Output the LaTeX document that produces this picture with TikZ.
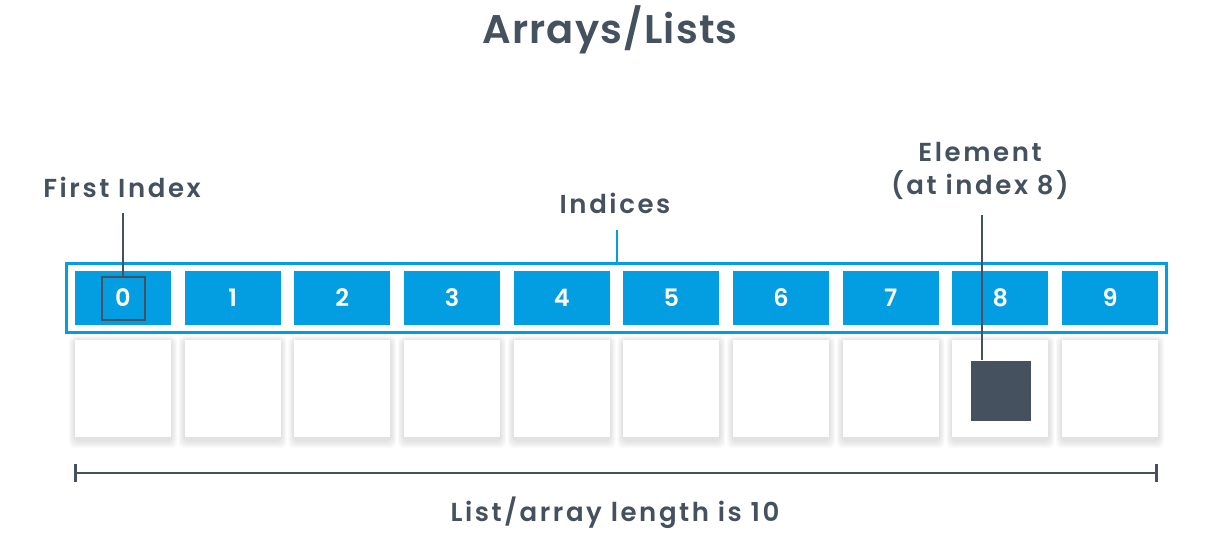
\documentclass[tikz,border=0pt]{standalone}
\usepackage{fontspec}
\setmainfont{Poppins}[UprightFont=* SemiBold, BoldFont=* Bold, LetterSpace=10]
\newfontfamily\titlefont{Poppins SemiBold}[LetterSpace=3]
\usetikzlibrary{fit,arrows.meta}
\definecolor{idxblue}{RGB}{3,157,226}
\definecolor{slate}{RGB}{70,81,96}
\tikzset{
  idxcell/.style={fill=idxblue, minimum width=48pt, minimum height=27pt, inner sep=0pt,
    text=white, font=\fontsize{12}{14}\selectfont},
  valcell/.style={fill=white, minimum width=48pt, minimum height=48.5pt, inner sep=0pt},
  softshade/.style={fill=black, opacity=0.025, rounded corners=3pt},
  lbl/.style={text=slate, font=\fontsize{13}{16.5}\selectfont, align=center, inner sep=0pt}
}
\begin{document}
\begin{tikzpicture}[x=0.5pt,y=-0.5pt]
		\useasboundingbox (0,0) rectangle (1210,532);
		
		% 1. Title
		\node[lbl, font=\fontsize{20}{24}\titlefont] (title) at (610,30) {Arrays/Lists};
		
		% 2. Index cells and value cells (with a soft shadow)
		\foreach \i in {0,...,9}{
			\node[idxcell] (c\i) at ({123+109.67*\i},298) {\i};
			\foreach \s in {1,...,5}
				\fill[softshade] ({123+109.67*\i-48-1.2*\s},{341-1.0*\s}) rectangle ({123+109.67*\i+48+1.2*\s},{440+1.6*\s});
			\node[valcell] (v\i) at ({123+109.67*\i},388.5) {};
		}
		
		% 3. Frame round the indices
		\node[draw=idxblue, line width=1.5pt, inner xsep=4pt, inner ysep=3.5pt, fit=(c0)(c9)] (frame) {};
		\node[lbl] (indices) at (615,203) {Indices};
		\draw[idxblue, line width=1pt] (frame.north) -- (frame.north |- 0,230);
		
		% 4. First index
		\node[draw=slate, line width=1pt, minimum width=21.5pt, minimum height=21.5pt, inner sep=0pt] (first) at (c0) {};
		\node[lbl] (firsttxt) at (122,187) {First Index};
		\draw[slate, line width=1pt] (first.north) -- (first.north |- 0,213);
		
		% 5. Element at index 8
		\node[fill=slate, minimum size=30pt, inner sep=0pt] (elem) at (1001,390.5) {};
		\node[lbl] (elemtxt) at (980,171) {Element\\(at index 8)};
		\coordinate (elemtop) at (982,215);
		\draw[slate, line width=1pt] (elemtop) -- (elemtop |- elem.north);
		
		% 6. Length of the list
		\coordinate (lenL) at (74,473);
		\coordinate (lenR) at (1158,473);
		\draw[slate, line width=1pt, {Bar[width=9pt,line width=1.5pt]}-{Bar[width=9pt,line width=1.5pt]}] (lenL) -- (lenR);
		\node[lbl] (lentxt) at (615,513) {List/array length is 10};
		
	\end{tikzpicture}
\end{document}
